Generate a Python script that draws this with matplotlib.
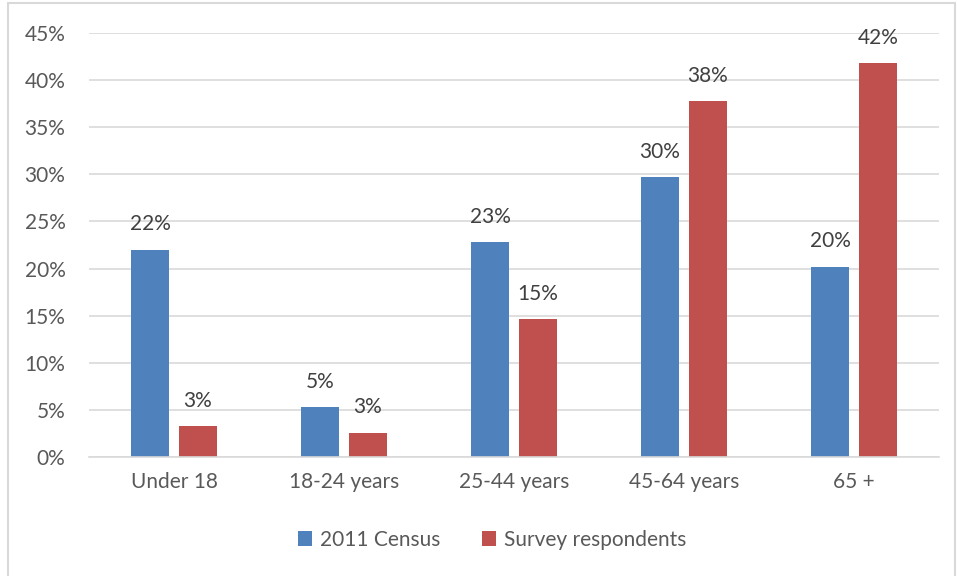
import numpy as np
import matplotlib.pyplot as plt
from matplotlib.patches import Rectangle

# age groups and the share of each group (percent)
categories = ['Under 18', '18-24 years', '25-44 years', '45-64 years', '65 +']
census = [22.0, 5.3, 22.8, 29.7, 20.2]
survey = [3.3, 2.6, 14.6, 37.8, 41.8]
series_names = ['2011 Census', 'Survey respondents']

color_census = '#4F81BD'
color_survey = '#C0504D'
color_font = '#595959'
color_grid = '#D9D9D9'

plt.rcParams['font.family'] = ['Lato', 'DejaVu Sans']

fig = plt.figure(figsize=(9.57, 5.76), dpi=100)
ax = fig.add_axes([89/957, 1 - 457/576, 850/957, 424/576])

x = np.arange(len(categories))
w = 0.224
off = 0.141
b1 = ax.bar(x - off, census, width=w, color=color_census, label=series_names[0], zorder=2)
b2 = ax.bar(x + off, survey, width=w, color=color_survey, label=series_names[1], zorder=2)

for bars in (b1, b2):
    for b in bars:
        h = b.get_height()
        ax.annotate('%d%%' % round(h), (b.get_x() + b.get_width() / 2, h),
                    xytext=(0, 11), textcoords='offset points',
                    ha='center', va='bottom', fontsize=15, color='#404040')

ax.set_xlim(-0.5, len(categories) - 0.5)
ax.set_ylim(0, 45)
ax.set_yticks(np.arange(0, 46, 5))
ax.set_yticklabels(['%d%%' % v for v in range(0, 46, 5)])
ax.set_xticks(x)
ax.set_xticklabels(categories)
ax.yaxis.grid(True, color=color_grid, linewidth=1.2, zorder=0)
ax.set_axisbelow(True)
for s in ['top', 'right', 'left']:
    ax.spines[s].set_visible(False)
ax.spines['bottom'].set_color(color_grid)
ax.spines['bottom'].set_linewidth(1.2)
ax.tick_params(axis='both', length=0, labelsize=15, colors=color_font)
ax.tick_params(axis='y', pad=17)
ax.tick_params(axis='x', pad=11)

fig.legend(loc='center', bbox_to_anchor=(0.514, 1 - 540/576), ncol=2, frameon=False,
           fontsize=15, handlelength=0.7, handleheight=0.7, handletextpad=0.35,
           columnspacing=2.0, labelcolor=color_font)

# outer chart border
fig.patches.append(Rectangle((8/957, -0.01), 947/957, 1 - 3/576 + 0.01,
                             transform=fig.transFigure, fill=False,
                             edgecolor='#D9D9D9', linewidth=1.5))

fig.savefig('out.png', dpi=100)
